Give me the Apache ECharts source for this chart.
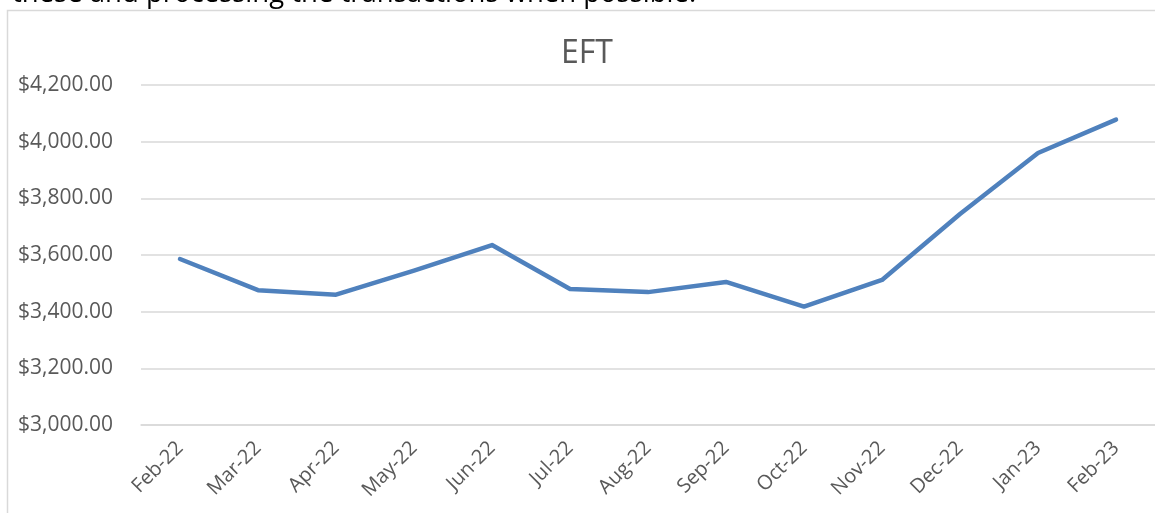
<!DOCTYPE html>
<html>
<head>
<meta charset="utf-8">
<style>
  html, body { margin: 0; padding: 0; background: #ffffff; }
  #chart { width: 1155px; height: 513px; }
</style>
<script src="https://cdn.jsdelivr.net/npm/echarts@6/dist/echarts.min.js"></script>
</head>
<body>
<div id="chart"></div>
<script>
const categories = ['Feb-22','Mar-22','Apr-22','May-22','Jun-22','Jul-22','Aug-22','Sep-22','Oct-22','Nov-22','Dec-22','Jan-23','Feb-23'];
const eftValues = [3586, 3476, 3460, 3545, 3635, 3480, 3469, 3505, 3418, 3512, 3745, 3960, 4078];
const yTicks = { min: 3000, max: 4200, interval: 200 };
const titleText = 'EFT';
const bodyText = 'these and processing the transactions when possible.';

const chart = echarts.init(document.getElementById('chart'), null, { renderer: 'canvas' });
const fmt = v => '$' + v.toLocaleString('en-US', { minimumFractionDigits: 2, maximumFractionDigits: 2 });

chart.setOption({
  backgroundColor: '#ffffff',
  animation: false,
  title: {
    text: titleText,
    left: 556,
    top: 33,
    textStyle: { fontFamily: 'Open Sans', fontSize: 32, fontWeight: 'normal', color: '#595959' }
  },
  graphic: [
    {
      type: 'rect',
      shape: { x: 7.5, y: 10.5, width: 1200, height: 600 },
      style: { fill: 'none', stroke: '#d9d9d9', lineWidth: 1.5 },
      silent: true
    },
    {
      type: 'text',
      left: 12,
      top: -20,
      style: { text: bodyText, font: '27.5px "Open Sans"', fill: '#000000' },
      silent: true
    }
  ],
  grid: { left: 141, right: -5, top: 85, bottom: 88, containLabel: false },
  xAxis: {
    type: 'category',
    data: categories,
    boundaryGap: true,
    axisLine: { show: true, lineStyle: { color: '#d9d9d9', width: 1.5 } },
    axisTick: { show: false },
    axisLabel: {
      rotate: 45,
      margin: 20,
      interval: 0,
      fontFamily: 'Open Sans',
      fontSize: 20,
      color: '#595959'
    }
  },
  yAxis: {
    type: 'value',
    min: yTicks.min,
    max: yTicks.max,
    interval: yTicks.interval,
    axisLine: { show: false },
    axisTick: { show: false },
    splitLine: { lineStyle: { color: '#d9d9d9', width: 1.5 } },
    axisLabel: {
      formatter: fmt,
      margin: 28,
      fontFamily: 'Open Sans',
      fontSize: 21,
      color: '#595959'
    }
  },
  series: [{
    type: 'line',
    data: eftValues,
    symbol: 'none',
    lineStyle: { color: '#4f81bd', width: 4.5, cap: 'round', join: 'round' },
    itemStyle: { color: '#4f81bd' }
  }]
});
</script>
</body>
</html>
